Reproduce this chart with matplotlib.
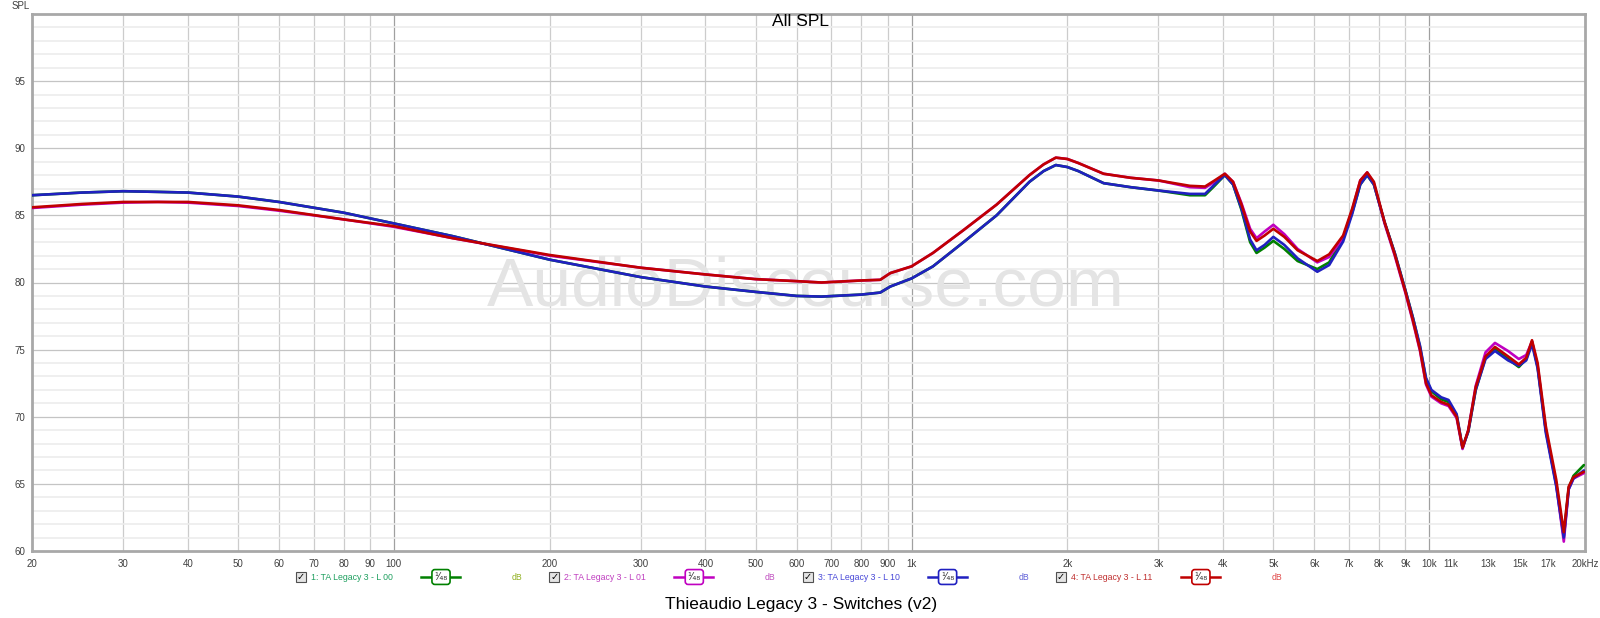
import matplotlib.pyplot as plt
from matplotlib.lines import Line2D
from matplotlib.patches import Rectangle

# frequency grid (Hz)
freq = [20, 25, 30, 35, 40, 50, 60, 80, 100, 130,
        200, 300, 400, 500, 600, 670, 800, 870, 910, 1000,
        1100, 1260, 1460, 1690, 1800, 1900, 2000, 2100, 2350, 2650,
        3000, 3450, 3690, 3850, 4030, 4180, 4340, 4510, 4640, 4810,
        5000, 5250, 5570, 6080, 6410, 6820, 7100, 7360, 7590, 7820,
        8200, 8580, 9000, 9300, 9600, 9860, 10100, 10550, 10900, 11300,
        11600, 11900, 12300, 12850, 13400, 14200, 14900, 15400, 15800, 16200,
        16800, 17600, 18200, 18600, 19000, 19900]

spl_l00 = [86.5, 86.7, 86.8, 86.75, 86.7, 86.4, 86.0, 85.2, 84.4, 83.45,
           81.7, 80.4, 79.7, 79.3, 79.0, 78.95, 79.1, 79.25, 79.7, 80.3,
           81.2, 83.0, 85.0, 87.5, 88.3, 88.75, 88.6, 88.3, 87.4, 87.1,
           86.85, 86.5, 86.5, 87.2, 88.0, 87.3, 85.4, 83.0, 82.2, 82.6,
           83.1, 82.5, 81.6, 81.0, 81.5, 83.3, 85.2, 87.3, 88.0, 87.3,
           84.5, 82.2, 79.4, 77.4, 75.2, 72.8, 71.9, 71.3, 71.1, 70.1,
           67.7, 68.9, 72.0, 74.4, 75.1, 74.3, 73.7, 74.3, 75.6, 73.7,
           69.0, 65.0, 61.1, 64.7, 65.6, 66.4]

spl_l01 = [85.55, 85.8, 85.95, 86.0, 85.95, 85.7, 85.35, 84.7, 84.15, 83.3,
           82.0, 81.1, 80.6, 80.25, 80.1, 80.0, 80.15, 80.2, 80.7, 81.2,
           82.2, 83.9, 85.8, 88.0, 88.8, 89.3, 89.2, 88.9, 88.1, 87.8,
           87.6, 87.1, 87.05, 87.5, 88.1, 87.5, 85.9, 84.0, 83.3, 83.8,
           84.3, 83.6, 82.5, 81.5, 81.9, 83.3, 85.4, 87.6, 88.2, 87.4,
           84.4, 82.0, 79.2, 77.1, 74.9, 72.4, 71.5, 71.0, 70.8, 69.9,
           67.6, 69.0, 72.3, 74.8, 75.5, 74.9, 74.3, 74.6, 75.6, 73.8,
           69.0, 64.9, 60.7, 64.6, 65.4, 65.8]

spl_l10 = [86.5, 86.7, 86.8, 86.75, 86.7, 86.4, 86.0, 85.2, 84.4, 83.45,
           81.7, 80.4, 79.7, 79.3, 79.0, 78.95, 79.1, 79.25, 79.7, 80.3,
           81.2, 83.0, 85.0, 87.5, 88.3, 88.75, 88.6, 88.3, 87.4, 87.1,
           86.85, 86.6, 86.6, 87.3, 88.0, 87.3, 85.5, 83.2, 82.4, 82.8,
           83.4, 82.8, 81.8, 80.8, 81.3, 83.05, 85.1, 87.3, 88.0, 87.3,
           84.5, 82.2, 79.4, 77.4, 75.3, 72.9, 72.0, 71.45, 71.25, 70.2,
           67.7, 68.9, 72.0, 74.3, 74.9, 74.2, 73.8, 74.2, 75.4, 73.6,
           68.8, 64.8, 61.0, 64.6, 65.4, 66.0]

spl_l11 = [85.6, 85.85, 86.0, 86.0, 86.0, 85.75, 85.4, 84.7, 84.2, 83.3,
           82.05, 81.1, 80.6, 80.25, 80.1, 80.0, 80.15, 80.2, 80.7, 81.2,
           82.2, 83.9, 85.8, 88.0, 88.8, 89.3, 89.2, 88.9, 88.1, 87.8,
           87.6, 87.2, 87.15, 87.6, 88.1, 87.5, 85.8, 83.8, 83.1, 83.5,
           84.0, 83.4, 82.4, 81.6, 82.1, 83.5, 85.5, 87.6, 88.2, 87.5,
           84.5, 82.1, 79.3, 77.2, 75.0, 72.5, 71.6, 71.1, 70.9, 70.0,
           67.7, 69.0, 72.2, 74.5, 75.2, 74.5, 73.9, 74.4, 75.7, 74.0,
           69.3, 65.3, 61.4, 64.8, 65.5, 65.9]

names = ['1: TA Legacy 3 - L 00', '2: TA Legacy 3 - L 01',
         '3: TA Legacy 3 - L 10', '4: TA Legacy 3 - L 11']
series = [spl_l00, spl_l01, spl_l10, spl_l11]
colors = ['#008000', '#c000c0', '#2020c0', '#c00000']
text_colors = ['#20a060', '#c040c0', '#4848d8', '#c03030']
db_colors = ['#90b020', '#c050c0', '#6060d8', '#e04848']

xtick_vals = [20, 30, 40, 50, 60, 70, 80, 90, 100, 200, 300, 400, 500, 600, 700, 800, 900,
              1000, 2000, 3000, 4000, 5000, 6000, 7000, 8000, 9000, 10000,
              11000, 13000, 15000, 17000, 20000]
xtick_labels = ['20', '30', '40', '50', '60', '70', '80', '90', '100', '200', '300', '400',
                '500', '600', '700', '800', '900', '1k', '2k', '3k', '4k', '5k', '6k', '7k',
                '8k', '9k', '10k', '11k', '13k', '15k', '17k', '20kHz']
ytick_vals = [60, 65, 70, 75, 80, 85, 90, 95]

plt.rcParams['font.family'] = ['Liberation Sans', 'DejaVu Sans']

W, H = 1600.0, 618.0
def fx(px):
    return px / W
def fy(py):
    return 1 - py / H

fig = plt.figure(figsize=(16, 6.18), dpi=100)
ax = fig.add_axes([fx(32), fy(551), (1585 - 32) / W, (551 - 14) / H])
ax.set_xscale('log')
ax.set_xlim(20, 20000)
ax.set_ylim(60, 100)

# grid
for dec in [10, 100, 1000, 10000]:
    for m in range(1, 10):
        f = dec * m
        if f <= 20 or f >= 20000:
            continue
        if m == 1:
            c = '#a0a0a0'
        elif f > 10000:
            c = '#dedede'
        else:
            c = '#cccccc'
        ax.axvline(f, color=c, lw=0.9, zorder=1)
for v in range(61, 100):
    if v % 5 == 0:
        ax.axhline(v, color='#c4c4c4', lw=0.9, zorder=1)
    else:
        ax.axhline(v, color='#ececec', lw=1.2, zorder=1)

# watermark
ax.text(fx(806), fy(287), 'AudioDiscourse.com', transform=fig.transFigure, fontsize=50,
        color='#e4e4e4', ha='center', va='center', zorder=1.5)

for s, c in zip(series, colors):
    ax.plot(freq, s, color=c, lw=1.9, zorder=3, solid_capstyle='round',
            solid_joinstyle='round')

ax.set_xticks(xtick_vals)
ax.set_xticklabels(xtick_labels)
ax.xaxis.set_minor_locator(plt.NullLocator())
ax.set_yticks(ytick_vals)
ax.set_yticklabels([str(v) for v in ytick_vals])
ax.tick_params(axis='both', length=0, labelsize=7, colors='#404040')
ax.tick_params(axis='x', pad=6)
ax.tick_params(axis='y', pad=5)
for sp in ax.spines.values():
    sp.set_color('#a8a8a8')
    sp.set_linewidth(2)

fig.text(fx(12), fy(6), 'SPL', fontsize=7, color='#404040', va='center')
fig.text(fx(800), fy(22), 'All SPL', fontsize=12.5, color='black', ha='center', va='center')
fig.text(fx(801), fy(604), 'Thieaudio Legacy 3 - Switches (v2)', fontsize=12.5,
         color='black', ha='center', va='center')

# legend row
ly = 577
for i, (nm, c, tc, dc) in enumerate(zip(names, colors, text_colors, db_colors)):
    x0 = 301 + i * 253.3
    fig.add_artist(Rectangle((fx(x0 - 5), fy(ly + 5)), 10 / W, 10 / H,
                             transform=fig.transFigure, fc='#e4e4e4', ec='#505050', lw=0.8))
    fig.text(fx(x0), fy(ly), '\u2713', fontsize=7, color='black', ha='center', va='center',
             family='DejaVu Sans')
    fig.text(fx(x0 + 10), fy(ly), nm, fontsize=6.3, color=tc, ha='left', va='center')
    fig.add_artist(Line2D([fx(x0 + 120), fx(x0 + 159)], [fy(ly), fy(ly)],
                          transform=fig.transFigure, color=c, lw=1.8))
    fig.text(fx(x0 + 140), fy(ly), '\u00b9\u2044\u2084\u2088', fontsize=7, color='#303030',
             ha='center', va='center', family='DejaVu Sans',
             bbox=dict(boxstyle='round,pad=0.25,rounding_size=0.3', fc='white', ec=c, lw=1.2))
    fig.text(fx(x0 + 216), fy(ly), 'dB', fontsize=6.3, color=dc, ha='center', va='center')

fig.savefig('out.png', dpi=100)
